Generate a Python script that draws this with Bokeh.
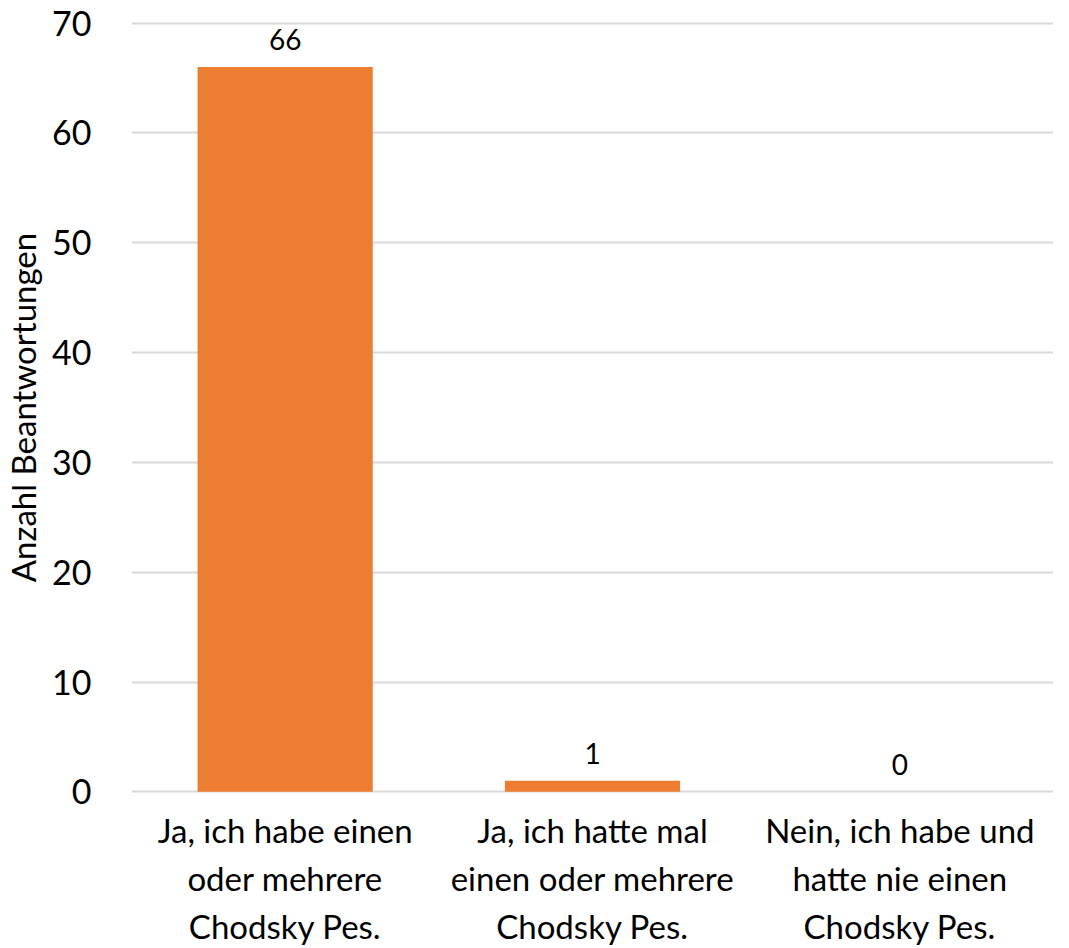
from bokeh.plotting import figure
from bokeh.models import ColumnDataSource, LabelSet, Range1d, FactorRange, SingleIntervalTicker
from bokeh.core.properties import value
from bokeh.embed import file_html
from bokeh.resources import INLINE

categories = ["Ja, ich habe einen\noder mehrere\nChodsky Pes.",
              "Ja, ich hatte mal\neinen oder mehrere\nChodsky Pes.",
              "Nein, ich habe und\nhatte nie einen\nChodsky Pes."]
counts = [66, 1, 0]
y_title = "Anzahl Beantwortungen"

FONT = "Lato"
src = ColumnDataSource(dict(cat=categories, val=counts, lab=[str(v) for v in counts]))

p = figure(width=1053, height=948, x_range=FactorRange(factors=categories, range_padding=0),
           y_range=Range1d(-0.15, 70.15), output_backend="svg", toolbar_location=None,
           min_border_left=123, min_border_right=0, min_border_top=21, min_border_bottom=0)
p.outline_line_color = None
p.background_fill_color = "white"
p.border_fill_color = "white"

p.vbar(x="cat", top="val", width=0.57, source=src, fill_color="#ED7D31", line_color=None)

labels = LabelSet(x="cat", y="val", text="lab", source=src, text_align="center",
                  text_baseline="bottom", y_offset=17, text_font=value(FONT),
                  text_font_size="28px", text_color="#000000")
p.add_layout(labels)

p.yaxis.ticker = SingleIntervalTicker(interval=10)
p.yaxis.axis_line_color = None
p.yaxis.major_tick_line_color = None
p.yaxis.minor_tick_line_color = None
p.yaxis.major_label_text_font = FONT
p.yaxis.major_label_text_font_size = "34px"
p.yaxis.major_label_text_color = "#000000"
p.yaxis.major_label_standoff = 34
p.yaxis.axis_label = y_title
p.yaxis.axis_label_text_font = FONT
p.yaxis.axis_label_text_font_size = "33px"
p.yaxis.axis_label_text_font_style = "normal"
p.yaxis.axis_label_text_color = "#000000"
p.yaxis.axis_label_standoff = 6

p.xaxis.axis_line_color = None
p.xaxis.major_tick_line_color = None
p.xaxis.minor_tick_line_color = None
p.xaxis.major_label_text_font = FONT
p.xaxis.major_label_text_font_size = "33px"
p.xaxis.major_label_text_color = "#000000"
p.xaxis.major_label_standoff = 10
p.xaxis.major_label_orientation = "horizontal"

p.xgrid.grid_line_color = None
p.ygrid.grid_line_color = "#d9d9d9"
p.ygrid.grid_line_width = 2

open("out.html", "w").write(file_html(p, INLINE))
